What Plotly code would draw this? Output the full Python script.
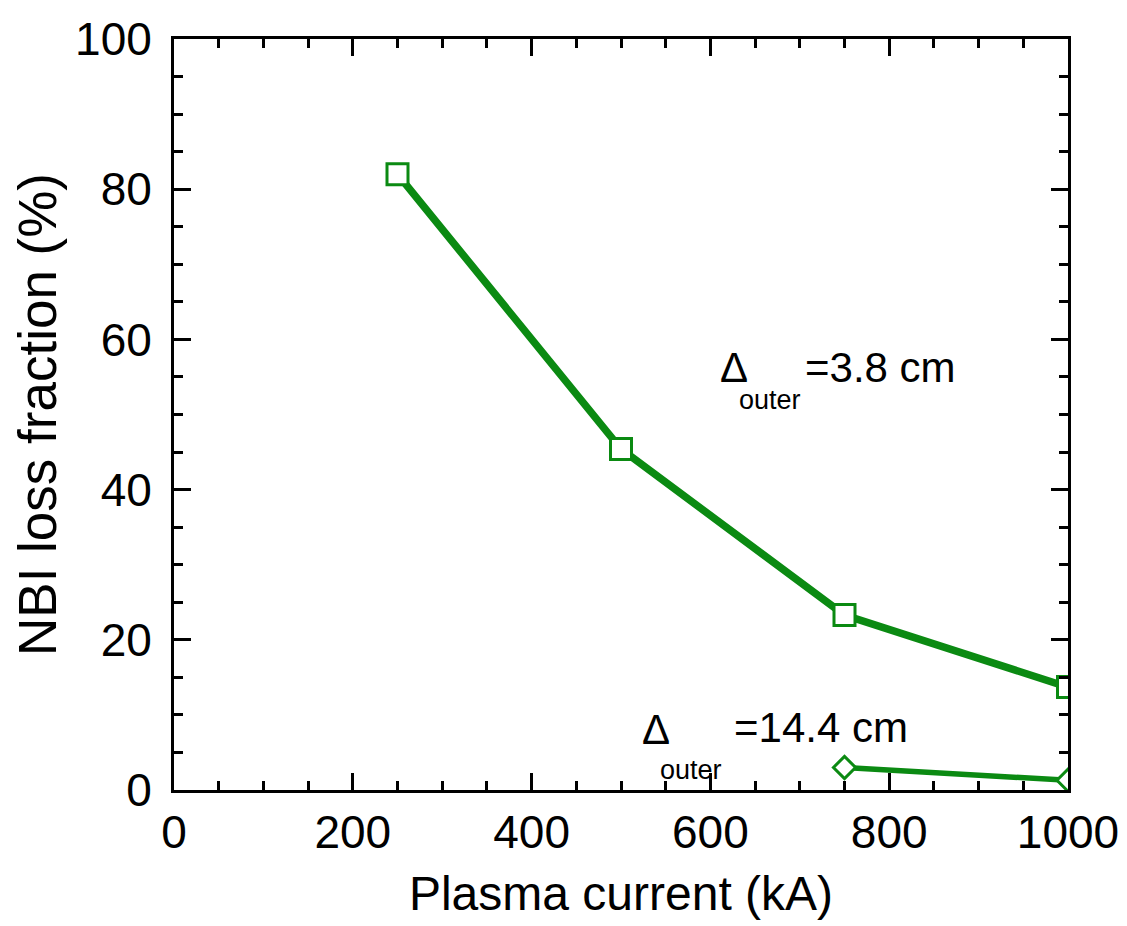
import plotly.graph_objects as go

current_a = [250, 500, 750, 1000]
loss_a = [82.0, 45.4, 23.3, 13.7]
current_b = [750, 1000]
loss_b = [3.0, 1.3]

x_ticks = [0, 200, 400, 600, 800, 1000]
y_ticks = [0, 20, 40, 60, 80, 100]

FONT = "Liberation Sans, Arial, sans-serif"
GREEN = "#0b8a12"

fig = go.Figure()
fig.add_trace(go.Scatter(
    x=current_a, y=loss_a, mode="lines+markers",
    line=dict(color=GREEN, width=7.5),
    marker=dict(symbol="square", size=21, color="white", line=dict(width=3, color=GREEN)),
    showlegend=False,
))
fig.add_trace(go.Scatter(
    x=current_b, y=loss_b, mode="lines+markers",
    line=dict(color=GREEN, width=5.5),
    marker=dict(symbol="diamond", size=17, color="white", line=dict(width=3, color=GREEN)),
    showlegend=False,
))

axis_common = dict(
    showline=True, linecolor="black", linewidth=3, mirror="ticks",
    ticks="inside", ticklen=17, tickwidth=3, tickcolor="black",
    showgrid=False, zeroline=False, automargin=False,
    tickfont=dict(family=FONT, size=46, color="black"),
)

fig.update_xaxes(
    range=[0, 1000], tickvals=x_ticks, ticktext=[str(v) for v in x_ticks],
    minor=dict(dtick=50, ticks="inside", ticklen=9, tickwidth=3, tickcolor="black", showgrid=False),
    title=dict(text="Plasma current (kA)", font=dict(family=FONT, size=48, color="black"), standoff=20),
    ticklabelstandoff=0,
    **axis_common,
)
fig.update_yaxes(
    range=[0, 100], tickvals=y_ticks, ticktext=[str(v) for v in y_ticks],
    minor=dict(dtick=5, ticks="inside", ticklen=9, tickwidth=3, tickcolor="black", showgrid=False),
    title=dict(text="NBI loss fraction (%)", font=dict(family=FONT, size=53, color="black"), standoff=6),
    ticklabelstandoff=10,
    **axis_common,
)

TXT = dict(family=FONT, size=42, color="black")
SUB = dict(family=FONT, size=27, color="black")

annotations = [
    (608.5, 56.2, "Δ", TXT),
    (629.8, 51.9, "outer", SUB),
    (703.6, 56.2, "=3.8 cm", TXT),
    (521.3, 8.1, "Δ", TXT),
    (541.4, 2.7, "outer", SUB),
    (624.2, 8.3, "=14.4 cm", TXT),
]
for ax_, ay_, txt, fnt in annotations:
    fig.add_annotation(x=ax_, y=ay_, xref="x", yref="y", xanchor="left", yanchor="middle",
                       text=txt, showarrow=False, font=fnt)

# page body adds an ~8px offset, compensated in the margins
fig.update_layout(
    width=1127, height=926,
    margin=dict(l=166, r=67, t=31, b=144),
    paper_bgcolor="white", plot_bgcolor="white",
    font=dict(family=FONT, color="black"),
)

fig.write_html("out.html")
